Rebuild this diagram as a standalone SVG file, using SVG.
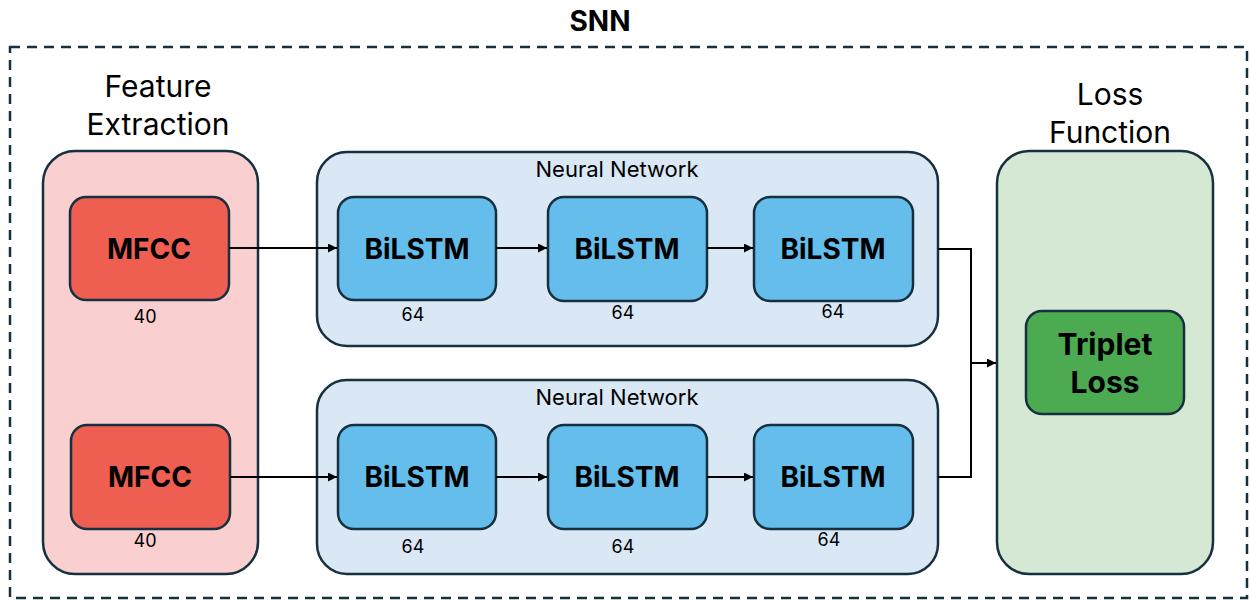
<svg xmlns="http://www.w3.org/2000/svg" width="1250" height="601" viewBox="0 0 1250 601">
<defs>
<marker id="arr" viewBox="0 0 10 10" refX="10" refY="5" markerWidth="9" markerHeight="9" markerUnits="userSpaceOnUse" orient="auto">
<path d="M0,0 L10,5 L0,10 z" fill="#000"/>
</marker>
<style>
text{font-family:Inter,"Open Sans","Liberation Sans",sans-serif;fill:#000;text-anchor:middle}
.stk{stroke:#16303f;stroke-width:2.5}
.fe{fill:#f9cfcf}
.nn{fill:#dae8f6}
.lf{fill:#d5e8d4}
.mf{fill:#ee5f52}
.bl{fill:#64bdea}
.tl{fill:#4caa50}
.big{font-size:28px;font-weight:700}
.tr{font-size:30px;font-weight:700}
.hd{font-size:30px}
.sm{font-size:18px}
.nt{font-size:22px}
.con{fill:none;stroke:#000;stroke-width:2}
</style>
</defs>
<rect width="1250" height="601" fill="#fff"/>
<g id="snn">
<rect x="10" y="47" width="1237" height="551" fill="none" stroke="#16303f" stroke-width="2.5" stroke-dasharray="10 7"/>
<text x="600" y="31" style="font-size:28px;font-weight:700">SNN</text>
</g>
<g id="feature-extraction">
<text class="hd" x="158" y="97">Feature</text>
<text class="hd" x="158" y="135">Extraction</text>
<rect class="fe stk" x="43" y="151" width="215" height="423" rx="32"/>
</g>
<g id="nn-top">
<rect class="nn stk" x="317" y="152" width="621" height="194" rx="30"/>
<text class="nt" x="617" y="177">Neural Network</text>
</g>
<g id="nn-bottom">
<rect class="nn stk" x="317" y="380" width="621" height="194" rx="30"/>
<text class="nt" x="617" y="405">Neural Network</text>
</g>
<g id="loss-function">
<text class="hd" x="1110" y="105">Loss</text>
<text class="hd" x="1110" y="143">Function</text>
<rect class="lf stk" x="997" y="151" width="216" height="423" rx="32"/>
</g>
<g id="mfcc-top">
<rect class="mf stk" x="70" y="197" width="159" height="103" rx="16"/>
<text class="big" x="149" y="259">MFCC</text>
<text class="sm" x="145" y="323">40</text>
</g>
<g id="mfcc-bottom">
<rect class="mf stk" x="71" y="425" width="159" height="104" rx="16"/>
<text class="big" x="150" y="487">MFCC</text>
<text class="sm" x="145" y="547">40</text>
</g>
<g id="bilstm-t1">
<rect class="bl stk" x="338" y="197" width="158" height="103" rx="16"/>
<text class="big" x="417" y="259">BiLSTM</text>
<text class="sm" x="413" y="321">64</text>
</g>
<g id="bilstm-t2">
<rect class="bl stk" x="548" y="197" width="159" height="104" rx="16"/>
<text class="big" x="627" y="259">BiLSTM</text>
<text class="sm" x="623" y="319">64</text>
</g>
<g id="bilstm-t3">
<rect class="bl stk" x="754" y="197" width="159" height="104" rx="16"/>
<text class="big" x="833" y="259">BiLSTM</text>
<text class="sm" x="833" y="318">64</text>
</g>
<g id="bilstm-b1">
<rect class="bl stk" x="338" y="425" width="158" height="104" rx="16"/>
<text class="big" x="417" y="487">BiLSTM</text>
<text class="sm" x="413" y="553">64</text>
</g>
<g id="bilstm-b2">
<rect class="bl stk" x="548" y="425" width="159" height="104" rx="16"/>
<text class="big" x="627" y="487">BiLSTM</text>
<text class="sm" x="623" y="553">64</text>
</g>
<g id="bilstm-b3">
<rect class="bl stk" x="754" y="425" width="159" height="104" rx="16"/>
<text class="big" x="833" y="487">BiLSTM</text>
<text class="sm" x="829" y="546">64</text>
</g>
<g id="triplet-loss">
<rect class="tl stk" x="1026" y="311" width="158" height="103" rx="16"/>
<text class="tr" x="1105" y="355">Triplet</text>
<text class="tr" x="1105" y="393">Loss</text>
</g>
<g id="connectors">
<line class="con" x1="229" y1="248" x2="337" y2="248" marker-end="url(#arr)"/>
<line class="con" x1="230" y1="477" x2="337" y2="477" marker-end="url(#arr)"/>
<line class="con" x1="496" y1="248" x2="547" y2="248" marker-end="url(#arr)"/>
<line class="con" x1="707" y1="248" x2="753" y2="248" marker-end="url(#arr)"/>
<line class="con" x1="496" y1="477" x2="547" y2="477" marker-end="url(#arr)"/>
<line class="con" x1="707" y1="477" x2="753" y2="477" marker-end="url(#arr)"/>
<polyline class="con" points="938,249 971,249 971,477 938,477"/>
<line class="con" x1="971" y1="363" x2="996" y2="363" marker-end="url(#arr)"/>
</g>
</svg>
